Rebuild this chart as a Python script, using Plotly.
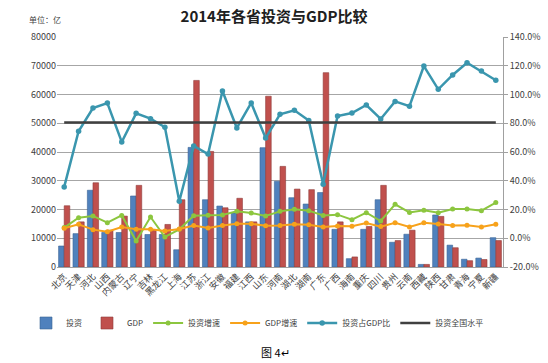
import plotly.graph_objects as go

provinces = ["北京", "天津", "河北", "山西", "内蒙古", "辽宁", "吉林", "黑龙江", "上海", "江苏",
             "浙江", "安徽", "福建", "江西", "山东", "河南", "湖北", "湖南", "广东", "广西",
             "海南", "重庆", "四川", "贵州", "云南", "西藏", "陕西", "甘肃", "青海", "宁夏", "新疆"]

investment = [7300, 11600, 26700, 12000, 12000, 24700, 11300, 11300, 6000, 41600,
              23400, 21200, 18800, 15700, 41500, 29800, 24100, 21900, 25900, 13100,
              2900, 13100, 23400, 8600, 11400, 900, 18100, 7600, 2700, 3100, 10200]

gdp = [21300, 15700, 29300, 12800, 17700, 28400, 13000, 14800, 23400, 64900,
       40200, 20600, 23900, 15700, 59400, 35000, 27100, 26900, 67600, 15700,
       3500, 14100, 28400, 9200, 12800, 900, 17600, 6700, 2200, 2600, 9200]

invest_growth = [7.4, 14.3, 15.5, 10.8, 15.9, -1.9, 14.8, 0.9, 6.2, 15.7,
                 16.0, 16.2, 18.7, 17.6, 15.5, 18.7, 20.1, 19.2, 15.9, 16.4,
                 12.9, 17.8, 12.0, 23.6, 18.0, 19.4, 17.8, 20.3, 20.3, 19.2, 24.8]

gdp_growth = [6.9, 9.7, 6.0, 4.6, 7.8, 6.2, 6.2, 5.0, 6.4, 8.9,
              7.1, 8.9, 10.1, 10.1, 8.7, 8.9, 9.7, 9.4, 7.8, 8.5,
              8.3, 10.6, 8.1, 10.8, 7.8, 10.8, 9.9, 8.8, 9.0, 7.8, 9.7]

invest_gdp_ratio = [35.7, 74.4, 90.6, 94.1, 67.0, 86.9, 83.2, 77.2, 25.7, 64.2,
                    58.6, 102.4, 76.7, 94.1, 69.7, 86.2, 89.0, 82.0, 37.5, 85.0,
                    87.1, 92.7, 83.0, 95.2, 91.8, 119.8, 103.6, 113.6, 122.1, 116.3, 109.9]

national_level = [80.6] * len(provinces)

left_ticks = list(range(0, 80001, 10000))
right_ticks = list(range(-20, 141, 20))

FONT = "Noto Sans CJK SC"

fig = go.Figure()

fig.add_trace(go.Bar(x=provinces, y=investment, name="投资",
                     marker=dict(color="#4F81BD", line=dict(color="#3A6496", width=0.6))))
fig.add_trace(go.Bar(x=provinces, y=gdp, name="GDP",
                     marker=dict(color="#C0504D", line=dict(color="#8E3B39", width=0.6))))
fig.add_trace(go.Scatter(x=provinces, y=invest_growth, name="投资增速", yaxis="y2",
                         mode="lines+markers", line=dict(color="#8CC63F", width=2),
                         marker=dict(size=5, color="#8CC63F")))
fig.add_trace(go.Scatter(x=provinces, y=gdp_growth, name="GDP增速", yaxis="y2",
                         mode="lines+markers", line=dict(color="#F7A21B", width=2),
                         marker=dict(size=5, color="#F7A21B")))
fig.add_trace(go.Scatter(x=provinces, y=invest_gdp_ratio, name="投资占GDP比", yaxis="y2",
                         mode="lines+markers", line=dict(color="#3A96AE", width=2.5),
                         marker=dict(size=5.5, color="#3A96AE")))
fig.add_trace(go.Scatter(x=provinces, y=national_level, name="投资全国水平", yaxis="y2",
                         mode="lines", line=dict(color="#404040", width=2.5)))

fig.update_layout(
    width=548, height=363,
    margin=dict(l=57, r=45, t=37, b=96, autoexpand=False),
    paper_bgcolor="white", plot_bgcolor="white",
    font=dict(family=FONT, size=9, color="#404040"),
    barmode="group", bargap=0.22, bargroupgap=0.0,
    showlegend=True,
    legend=dict(orientation="h", xref="paper", x=(26 - 57) / 446, xanchor="left",
                yref="paper", y=-(323 - 267) / 230, yanchor="middle",
                font=dict(size=8, family=FONT, color="#404040"),
                itemwidth=30, tracegroupgap=0, traceorder="normal"),
    xaxis=dict(type="category", range=[-0.5, len(provinces) - 0.5],
               tickangle=-45, tickfont=dict(size=9, family=FONT, color="#404040"),
               showline=True, linecolor="#A0A0A0", linewidth=1,
               ticks="", showgrid=False),
    yaxis=dict(range=[0, 80000], tickvals=left_ticks, ticktext=[str(v) for v in left_ticks],
               showgrid=True, gridcolor="#A6A6A6", gridwidth=1, zeroline=False,
               showline=False, ticks="", tickfont=dict(size=9, color="#404040")),
    yaxis2=dict(range=[-20, 140], tickvals=right_ticks,
                ticktext=[f"{v:.1f}%" for v in right_ticks],
                overlaying="y", side="right", showgrid=False, zeroline=False,
                showline=True, linecolor="#A0A0A0", linewidth=1,
                ticks="outside", ticklen=4, tickcolor="#A0A0A0",
                tickfont=dict(size=9, color="#404040")),
    title=dict(text="<b>2014年各省投资与GDP比较</b>", x=0.5, xanchor="center",
               y=1 - 17 / 363, yanchor="middle",
               font=dict(size=15, family=FONT, color="#202020")),
)

fig.add_annotation(text="单位：亿", xref="paper", yref="paper", x=-0.067, xanchor="left",
                   y=(267 - 20) / 230, yanchor="middle",
                   showarrow=False, font=dict(size=8, family=FONT, color="#404040"))
fig.add_annotation(text="图 4↵", xref="paper", yref="paper", x=(275 - 57) / 446, xanchor="center",
                   y=-(352 - 267) / 230, yanchor="middle",
                   showarrow=False, font=dict(size=11, family=FONT, color="#000000"))

fig.write_html("out.html", config={"displayModeBar": False},
               post_script="document.body.style.margin='0';document.body.style.overflow='hidden';")
